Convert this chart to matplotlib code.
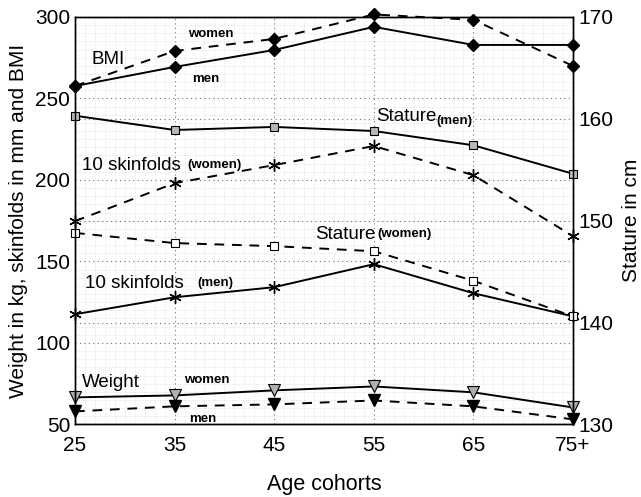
import numpy as np
import matplotlib.pyplot as plt
from matplotlib.ticker import MultipleLocator

plt.rcParams['font.family'] = ['Liberation Sans', 'DejaVu Sans']

# %% data
ages = [25, 35, 45, 55, 65, 75]
age_labels = ["25", "35", "45", "55", "65", "75+"]

bmi_men = [257.6, 269.3, 279.7, 293.9, 282.8, 282.8]
bmi_women = [257.6, 279.1, 286.5, 301.5, 298.2, 269.9]
skin_women = [174.7, 198.0, 209.1, 220.8, 202.9, 165.5]
skin_men = [117.6, 128.0, 134.2, 148.3, 130.5, 116.3]
weight_women = [66.6, 67.8, 70.9, 73.3, 69.7, 60.4]
weight_men = [58.0, 61.1, 62.3, 64.7, 61.1, 53.1]

# stature, right axis (cm)
stat_men = [160.3, 158.9, 159.2, 158.8, 157.4, 154.6]
stat_women = [148.8, 147.8, 147.5, 147.0, 144.1, 140.6]

# %% plot
fig = plt.figure(figsize=(6.41, 4.97), dpi=100)
ax = fig.add_axes([0.117, 0.146, 0.777, 0.82])
ax2 = ax.twinx()

lw = 1.4
dash = (5, 4)
kw = dict(color='black', lw=lw, clip_on=False)
ax.plot(ages, bmi_men, '-', marker='D', ms=6, mfc='black', **kw)
ax.plot(ages, bmi_women, '--', marker='D', ms=6, mfc='black', dashes=dash, **kw)
ax.plot(ages, skin_women, '--', marker=(6, 2, 0), ms=9, mew=1, dashes=dash, **kw)
ax.plot(ages, skin_men, '-', marker=(6, 2, 0), ms=9, mew=1, **kw)
ax.plot(ages, weight_women, '-', marker='v', ms=8, mfc='#b0b0b0', mec='black', mew=0.8, **kw)
ax.plot(ages, weight_men, '--', marker='v', ms=8, mfc='black', dashes=dash, **kw)

ax2.plot(ages, stat_men, '-', marker='s', ms=5.5, mfc='#b8b8b8', mec='black', mew=0.8, **kw)
ax2.plot(ages, stat_women, '--', marker='s', ms=5.5, mfc='white', mec='black', mew=0.8, dashes=dash, **kw)

ax.set_xlim(25, 75)
ax.set_ylim(50, 300)
ax2.set_ylim(130, 170)
ax.set_xticks(ages)
ax.set_xticklabels(age_labels)
ax.set_yticks([50, 100, 150, 200, 250, 300])
ax2.set_yticks([130, 140, 150, 160, 170])

ax.xaxis.set_minor_locator(MultipleLocator(1))
ax.yaxis.set_minor_locator(MultipleLocator(5))
ax.grid(which='minor', color='#d4d4d4', lw=0.5, ls=':')
ax.grid(which='major', color='#707070', lw=0.8, ls=(0, (1, 3)))
ax2.grid(which='major', axis='y', color='#707070', lw=0.8, ls=(0, (1, 3)))
ax.set_axisbelow(True)

for a in (ax, ax2):
    a.tick_params(which='both', length=0, labelsize=15)
    for s in a.spines.values():
        s.set_linewidth(1.0)
ax.tick_params(axis='x', pad=8)
ax.tick_params(axis='y', pad=3.5)
ax2.tick_params(axis='y', pad=4)

ax.set_xlabel("Age cohorts", fontsize=15.5, labelpad=14)
ax.set_ylabel("Weight in kg, skinfolds in mm and BMI", fontsize=15, labelpad=5)
ax2.set_ylabel("Stature in cm", fontsize=15, labelpad=6)

# annotations
big = dict(fontsize=13.5, va='center')
small = dict(fontsize=9.5, fontweight='bold', va='center')
ax.text(26.7, 274, "BMI", **big)
ax.text(36.3, 289.6, "women", **small)
ax.text(36.8, 262, "men", **small)
ax.text(55.2, 238.6, "Stature", **big)
ax.text(61.3, 236, "(men)", **small)
ax.text(25.7, 209, "10 skinfolds", **big)
ax.text(36.3, 209, "(women)", **small)
ax.text(49.1, 166.7, "Stature", **big)
ax.text(55.4, 166.7, "(women)", **small)
ax.text(26.0, 136.6, "10 skinfolds", **big)
ax.text(37.3, 137, "(men)", **small)
ax.text(25.7, 75.8, "Weight", **big)
ax.text(35.9, 77, "women", **small)
ax.text(36.5, 53.1, "men", **small)

fig.savefig("out.png", dpi=100)
